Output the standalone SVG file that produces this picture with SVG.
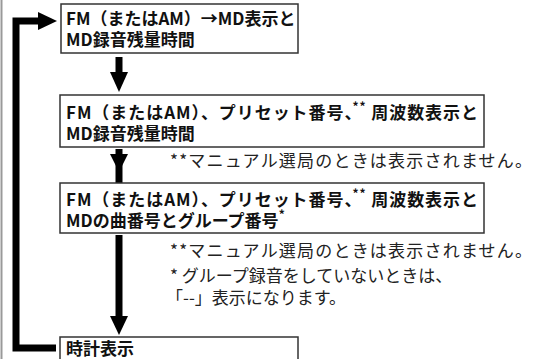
<svg xmlns="http://www.w3.org/2000/svg" width="537" height="359" viewBox="0 0 537 359">
<style>
.box{fill:#fff;stroke:#333;stroke-width:1.5}
.bt{font-family:"Noto Sans CJK JP","Noto Sans",sans-serif;font-weight:bold;font-size:17px;fill:#111}
.nt{font-family:"Noto Sans CJK JP","Noto Sans",sans-serif;font-size:17px;fill:#222}
.sup{font-size:12px}
.ln{stroke:#000;stroke-width:7;fill:none}
.hd{fill:#000}
</style>
<rect width="537" height="359" fill="#fff"/>
<line x1="1.5" y1="0" x2="1.5" y2="359" stroke="#999" stroke-width="2"/>
<g id="connectors">
<polyline class="ln" points="56,348 16,348 16,21 40,21"/>
<polygon class="hd" points="38,12 57,21 38,30"/>
<line class="ln" x1="119" y1="57" x2="119" y2="74"/>
<polygon class="hd" points="110,72 128,72 119,92"/>
<line class="ln" x1="119" y1="149" x2="119" y2="189"/>
<polygon class="hd" points="110,154 128,154 119,172"/>
<line class="ln" x1="119" y1="235" x2="119" y2="318"/>
<polygon class="hd" points="110,316 128,316 119,335"/>
</g>
<g id="node1">
<rect class="box" x="61" y="4" width="237" height="49"/>
<text class="bt" x="66" y="25">FM（またはAM）→MD表示と</text>
<text class="bt" x="66" y="46">MD録音残量時間</text>
</g>
<g id="node2">
<rect class="box" x="60" y="95" width="424" height="52"/>
<text class="bt" x="66" y="119" textLength="412">FM（またはAM）、プリセット番号、<tspan class="sup" dx="-10" dy="-8">**</tspan><tspan dy="8"> 周波数表示と</tspan></text>
<text class="bt" x="66" y="140">MD録音残量時間</text>
</g>
<g id="node3">
<rect class="box" x="60" y="183" width="424" height="50"/>
<text class="bt" x="66" y="206" textLength="412">FM（またはAM）、プリセット番号、<tspan class="sup" dx="-10" dy="-8">**</tspan><tspan dy="8"> 周波数表示と</tspan></text>
<text class="bt" x="66" y="227">MDの曲番号とグループ番号<tspan class="sup" dy="-8">*</tspan></text>
</g>
<g id="node4">
<rect class="box" x="60" y="337" width="238" height="30"/>
<text class="bt" x="66" y="355">時計表示</text>
</g>
<g id="notes">
<text class="nt" x="170" y="167" textLength="362">**マニュアル選局のときは表示されません。</text>
<text class="nt" x="170" y="257" textLength="362">**マニュアル選局のときは表示されません。</text>
<text class="nt" x="170" y="282">* グループ録音をしていないときは、</text>
<text class="nt" x="166" y="304">「--」表示になります。</text>
</g>
</svg>
